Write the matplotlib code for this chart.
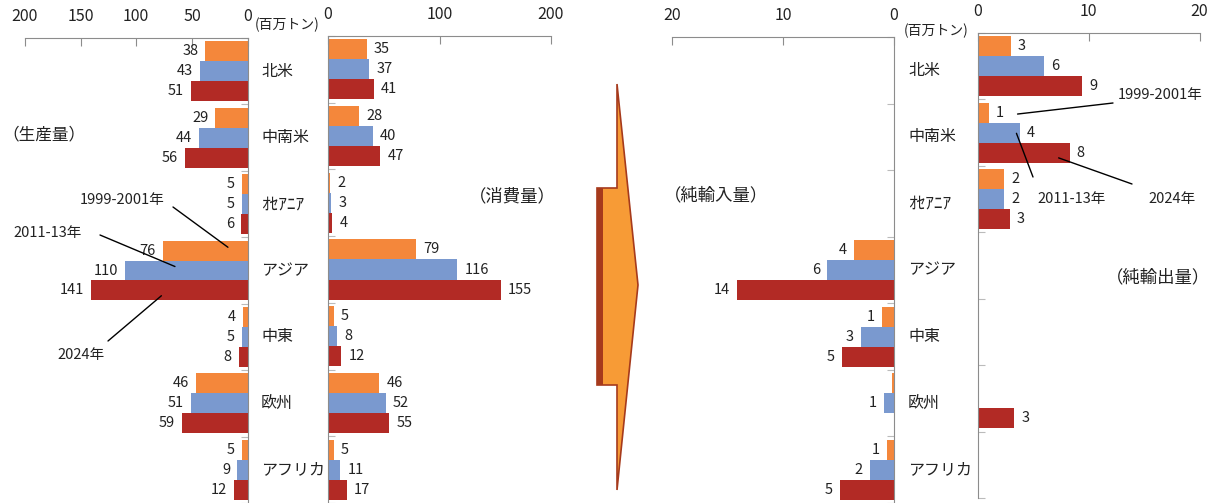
import matplotlib.pyplot as plt
import numpy as np
from matplotlib.patches import Polygon
from matplotlib.transforms import blended_transform_factory

plt.rcParams['font.family'] = ['Noto Sans CJK JP', 'DejaVu Sans']

regions = ['北米', '中南米', 'ｵｾｱﾆｱ', 'アジア', '中東', '欧州', 'アフリカ']
periods = ['1999-2001年', '2011-13年', '2024年']
colors = ['#F4873B', '#7A99CF', '#B22A25']

# production / consumption (million tonnes)
prod_1999 = [38, 29, 5, 76, 4, 46, 5]
prod_2011 = [43, 44, 5, 110, 5, 51, 9]
prod_2024 = [51, 56, 6, 141, 8, 59, 12]

cons_1999 = [35, 28, 2, 79, 5, 46, 5]
cons_2011 = [37, 40, 3, 116, 8, 52, 11]
cons_2024 = [41, 47, 4, 155, 12, 55, 17]

# net imports / net exports
imp_1999 = [0, 0, 0, 3.6, 1.1, 0.2, 0.6]
imp_2011 = [0, 0, 0, 6.0, 3.0, 0.9, 2.2]
imp_2024 = [0, 0, 0, 14.1, 4.7, 0, 4.9]

exp_1999 = [3.0, 1.0, 2.4, 0, 0, 0, 0]
exp_2011 = [6.0, 3.8, 2.4, 0, 0, 0, 0]
exp_2024 = [9.4, 8.3, 2.9, 0, 0, 3.3, 0]

W, H = 1216, 503
fig = plt.figure(figsize=(W / 100, H / 100), dpi=100)
GRAY = '#8C8C8C'
TXT = '#222222'


def px_axes(left, top, right, bottom):
    return fig.add_axes([left / W, 1 - bottom / H, (right - left) / W, (bottom - top) / H])


def fpos(x, y):
    return x / W, 1 - y / H


def draw_panel(ax, series, xmax, ticks, reverse):
    y = np.arange(len(regions))
    for k, (vals, c) in enumerate(zip(series, colors)):
        yy = y + (k - 1) * 0.3
        ax.barh(yy, vals, height=0.3, color=c)
        # value labels just outside the bar end
        for v, yi in zip(vals, yy):
            if v < 0.5:
                continue
            ax.annotate(f'{v:.0f}', xy=(v, yi), xytext=(-7 if reverse else 7, 0),
                        textcoords='offset pixels',
                        ha='right' if reverse else 'left', va='center',
                        fontsize=10.5, color=TXT)
    ax.set_ylim(len(regions) - 0.5, -0.5)
    ax.set_xlim((xmax, 0) if reverse else (0, xmax))
    ax.xaxis.tick_top()
    ax.set_xticks(ticks)
    ax.tick_params(axis='x', direction='in', length=6, color=GRAY, pad=9.5,
                   labelsize=11.5, labelcolor=TXT)
    ax.set_yticks(np.arange(-0.5, len(regions)))
    ax.set_yticklabels([])
    side = 'right' if reverse else 'left'
    ax.tick_params(axis='y', direction='in', length=5, color='#BBBBBB',
                   left=not reverse, right=reverse)
    for name, sp in ax.spines.items():
        sp.set_visible(name in ('top', side))
        sp.set_color(GRAY)
    ax.patch.set_alpha(0)


ax_prod = px_axes(25, 38, 247.5, 503)
draw_panel(ax_prod, [prod_1999, prod_2011, prod_2024], 200, [200, 150, 100, 50, 0], True)

ax_cons = px_axes(328, 36, 551, 503)
draw_panel(ax_cons, [cons_1999, cons_2011, cons_2024], 200, [0, 100, 200], False)

ax_imp = px_axes(672, 37, 894, 503)
draw_panel(ax_imp, [imp_1999, imp_2011, imp_2024], 20, [20, 10, 0], True)

ax_exp = px_axes(977.6, 33, 1199.6, 498)
draw_panel(ax_exp, [exp_1999, exp_2011, exp_2024], 20, [0, 10, 20], False)

# region names between panels
tr_left = blended_transform_factory(fig.transFigure, ax_prod.transData)
tr_right = blended_transform_factory(fig.transFigure, ax_imp.transData)
for i, r in enumerate(regions):
    size = 12.5 if r.startswith('ｵ') else 11.5
    fig.text(261 / W, i, r, transform=tr_left, ha='left', va='center',
             fontsize=size, color=TXT)
    fig.text(908 / W, i, r, transform=tr_right, ha='left', va='center',
             fontsize=size, color=TXT)

# unit and panel titles
fig.text(*fpos(287, 25), '(百万トン)', ha='center', va='center', fontsize=10, color=TXT)
fig.text(*fpos(936, 31), '(百万トン)', ha='center', va='center', fontsize=10, color=TXT)
fig.text(*fpos(44, 135), '（生産量）', ha='center', va='center', fontsize=12, color=TXT)
fig.text(*fpos(512, 196), '（消費量）', ha='center', va='center', fontsize=12.5, color=TXT)
fig.text(*fpos(716, 195), '（純輸入量）', ha='center', va='center', fontsize=12.5, color=TXT)
fig.text(*fpos(1158, 277), '（純輸出量）', ha='center', va='center', fontsize=12.5, color=TXT)

# series callouts
left_callouts = [
    (periods[0], (122, 200), (173, 207), (17.6, 2.65)),
    (periods[1], (48, 233), (100, 235), (65.2, 2.94)),
    (periods[2], (81, 355), (108, 341), (77.4, 3.38)),
]
right_callouts = [
    (periods[0], (1160, 95), (1113, 103), (3.6, 0.72)),
    (periods[1], (1072, 199), (1033, 177), (3.5, 1.01)),
    (periods[2], (1172, 199), (1132, 184), (7.3, 1.38)),
]
for ax, items in ((ax_prod, left_callouts), (ax_exp, right_callouts)):
    for label, tpos, lstart, end in items:
        fig.text(*fpos(*tpos), label, ha='center', va='center', fontsize=10.5, color=TXT)
        ax.annotate('', xy=end, xycoords='data', xytext=fpos(*lstart),
                    textcoords='figure fraction',
                    arrowprops=dict(arrowstyle='-', color='black', lw=1,
                                    shrinkA=0, shrinkB=0),
                    annotation_clip=False)

# big arrow between the two halves
arrow_px = [(597, 188), (617, 188), (617, 84), (638, 285), (617, 490), (617, 385), (597, 385)]
fig.patches.append(Polygon([fpos(x, y) for x, y in arrow_px], closed=True,
                           transform=fig.transFigure, facecolor='#F79B36',
                           edgecolor='#A63A1C', lw=1.2))
fig.patches.append(Polygon([fpos(x, y) for x, y in [(597, 188), (603, 188), (603, 385), (597, 385)]],
                           closed=True, transform=fig.transFigure,
                           facecolor='#A63A1C', edgecolor='none'))

fig.savefig('out.png', dpi=100)
